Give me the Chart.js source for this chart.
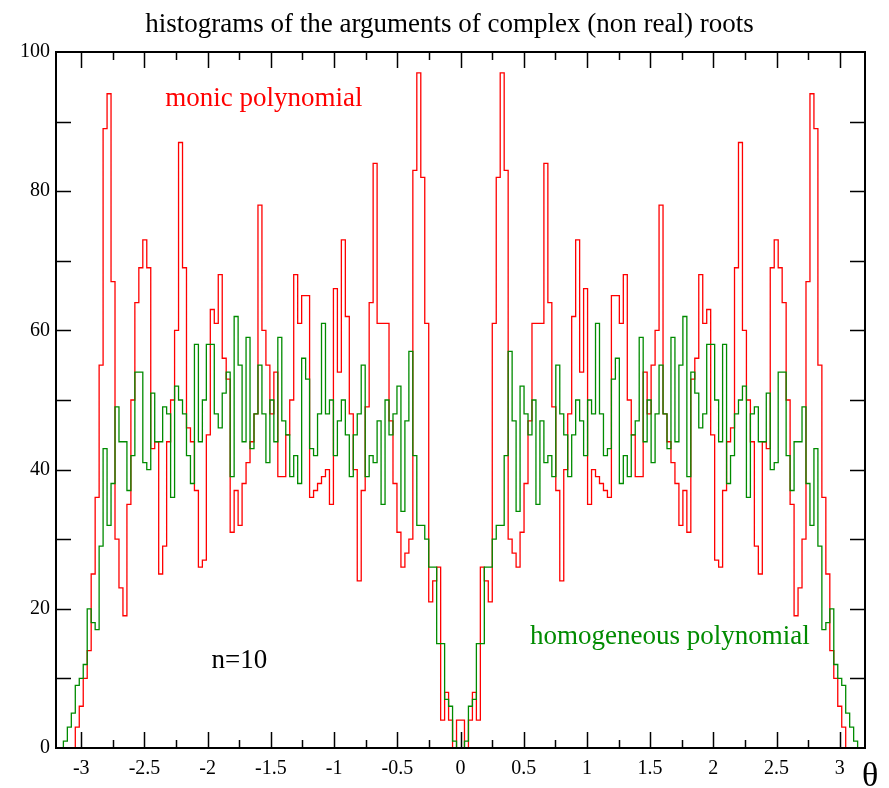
<!DOCTYPE html>
<html><head><meta charset="utf-8">
<script src="https://cdn.jsdelivr.net/npm/chart.js@4.4.1/dist/chart.umd.min.js"></script>
<style>html,body{margin:0;padding:0;background:#fff;}</style>
</head><body>
<canvas id="c" width="889" height="788"></canvas>
<script>
const titleText = 'histograms of the arguments of complex (non real) roots';
const xTickValues = [-3, -2.5, -2, -1.5, -1, -0.5, 0, 0.5, 1, 1.5, 2, 2.5, 3];
const xTickLabels = ['-3', '-2.5', '-2', '-1.5', '-1', '-0.5', '0', '0.5', '1', '1.5', '2', '2.5', '3'];
const xMinorTicks = [-2.75, -2.25, -1.75, -1.25, -0.75, -0.25, 0.25, 0.75, 1.25, 1.75, 2.25, 2.75];
const yTickValues = [0, 20, 40, 60, 80, 100];
const yTickMarks = [10, 20, 30, 40, 50, 60, 70, 80, 90];
const binStart = -Math.PI;
const binEnd = Math.PI;
const binCount = 200;

const monicCounts = [
  0, 0, 0, 3, 6, 10, 14, 25, 36, 55,
  89, 94, 67, 30, 23, 19, 35, 50, 64, 69,
  73, 69, 43, 44, 25, 29, 44, 50, 60, 87,
  69, 46, 44, 37, 26, 27, 45, 63, 61, 68,
  56, 53, 31, 37, 32, 38, 41, 44, 48, 78,
  60, 55, 48, 54, 39, 39, 45, 50, 68, 61,
  65, 65, 36, 37, 38, 39, 40, 35, 66, 54,
  73, 62, 48, 40, 24, 37, 49, 64, 84, 61,
  61, 61, 47, 38, 31, 26, 28, 30, 83, 97,
  82, 61, 21, 24, 26, 4, 8, 4, 0, 4,
  4, 0, 4, 8, 4, 26, 24, 21, 61, 82,
  97, 83, 30, 28, 26, 31, 38, 47, 61, 61,
  61, 84, 64, 49, 37, 24, 40, 48, 62, 73,
  54, 66, 35, 40, 39, 38, 37, 36, 65, 65,
  61, 68, 50, 45, 39, 39, 54, 48, 55, 60,
  78, 48, 44, 41, 38, 32, 37, 31, 53, 56,
  68, 61, 63, 45, 27, 26, 37, 44, 46, 69,
  87, 60, 50, 44, 29, 25, 44, 43, 69, 73,
  69, 64, 50, 35, 19, 23, 30, 67, 94, 89,
  55, 36, 25, 14, 10, 6, 3, 0, 0, 0
];

const homogeneousCounts = [
  1, 3, 5, 9, 10, 12, 20, 18, 17, 29,
  43, 32, 38, 49, 44, 44, 37, 42, 54, 54,
  41, 40, 51, 44, 44, 49, 48, 36, 52, 50,
  48, 42, 38, 58, 44, 50, 58, 58, 48, 46,
  51, 54, 39, 62, 55, 44, 59, 43, 48, 55,
  48, 41, 50, 44, 59, 47, 45, 39, 42, 38,
  56, 53, 43, 42, 48, 61, 48, 50, 42, 47,
  50, 45, 39, 45, 48, 55, 39, 42, 41, 47,
  35, 50, 45, 48, 52, 34, 47, 57, 42, 32,
  32, 30, 26, 26, 15, 15, 7, 6, 1, 0,
  0, 1, 6, 7, 15, 15, 26, 26, 30, 32,
  32, 42, 57, 47, 34, 52, 48, 45, 50, 35,
  47, 41, 42, 39, 55, 48, 45, 39, 45, 50,
  47, 42, 50, 48, 61, 48, 42, 43, 53, 56,
  38, 42, 39, 45, 47, 59, 44, 50, 41, 48,
  55, 48, 43, 59, 44, 55, 62, 39, 54, 51,
  46, 48, 58, 58, 50, 44, 58, 38, 42, 48,
  50, 52, 36, 48, 49, 44, 44, 51, 40, 41,
  54, 54, 42, 37, 44, 44, 49, 38, 32, 43,
  29, 17, 18, 20, 12, 10, 9, 5, 3, 1
];

const annotations = [
  {text: 'monic polynomial', x: -2.335, y: 92.3, color: '#ff0000'},
  {text: 'homogeneous polynomial', x: 0.55, y: 15.0, color: '#008b00'},
  {text: 'n=10', x: -1.97, y: 11.5, color: '#000000'}
];

function histogramSteps(counts) {
  const w = (binEnd - binStart) / binCount;
  const pts = [{x: binStart, y: 0}];
  counts.forEach((c, i) => pts.push({x: binStart + i * w, y: c}));
  pts.push({x: binEnd, y: counts[counts.length - 1]});
  pts.push({x: binEnd, y: 0});
  return pts;
}

const SERIF = "'Liberation Serif', 'DejaVu Serif', serif";
Chart.defaults.font.family = SERIF;
Chart.defaults.color = '#000';

const framePlugin = {
  id: 'frame',
  afterDatasetsDraw(chart) {
    const {ctx, chartArea: a, scales} = chart;
    const xs = scales.x, ys = scales.y;
    ctx.save();
    ctx.strokeStyle = '#000';
    ctx.lineWidth = 1.5;
    ctx.beginPath();
    xTickValues.forEach(v => {
      const px = Math.round(xs.getPixelForValue(v)) + 0.5;
      ctx.moveTo(px, a.bottom); ctx.lineTo(px, a.bottom - 16);
      ctx.moveTo(px, a.top); ctx.lineTo(px, a.top + 16);
    });
    xMinorTicks.forEach(v => {
      const px = Math.round(xs.getPixelForValue(v)) + 0.5;
      ctx.moveTo(px, a.bottom); ctx.lineTo(px, a.bottom - 8);
      ctx.moveTo(px, a.top); ctx.lineTo(px, a.top + 8);
    });
    yTickMarks.forEach(v => {
      const py = Math.round(ys.getPixelForValue(v)) + 0.5;
      ctx.moveTo(a.left, py); ctx.lineTo(a.left + 15, py);
      ctx.moveTo(a.right, py); ctx.lineTo(a.right - 15, py);
    });
    ctx.stroke();
    ctx.lineWidth = 2;
    ctx.strokeRect(a.left, a.top, a.right - a.left, a.bottom - a.top);
    ctx.restore();
  },
  afterDraw(chart) {
    const {ctx, chartArea: a, scales} = chart;
    ctx.save();
    ctx.textBaseline = 'alphabetic';
    ctx.font = '27px ' + SERIF;
    ctx.fillStyle = '#000';
    ctx.textAlign = 'center';
    ctx.fillText(titleText, (a.left + a.right) / 2 - 11, 32);
    ctx.textAlign = 'left';
    annotations.forEach(t => {
      ctx.fillStyle = t.color;
      ctx.fillText(t.text, scales.x.getPixelForValue(t.x), scales.y.getPixelForValue(t.y));
    });
    ctx.fillStyle = '#000';
    ctx.font = '34px ' + SERIF;
    ctx.fillText('\u03b8', a.right - 3, 786);
    ctx.restore();
  }
};

new Chart(document.getElementById('c'), {
  type: 'line',
  data: {
    datasets: [
      {label: 'homogeneous polynomial', data: histogramSteps(homogeneousCounts), borderColor: '#008b00', borderWidth: 1.3, stepped: 'before', pointRadius: 0, fill: false, order: 0},
      {label: 'monic polynomial', data: histogramSteps(monicCounts), borderColor: '#ff0000', borderWidth: 1.3, stepped: 'before', pointRadius: 0, fill: false, order: 1}
    ]
  },
  options: {
    responsive: false,
    animation: false,
    devicePixelRatio: 1,
    parsing: false,
    layout: {padding: {top: 52, right: 24, left: 0, bottom: 0}},
    plugins: {legend: {display: false}, tooltip: {enabled: false}, title: {display: false}},
    scales: {
      x: {
        type: 'linear', min: -3.2, max: 3.2,
        grid: {display: false, drawTicks: false},
        border: {display: false},
        afterBuildTicks: s => { s.ticks = xTickValues.map(v => ({value: v})); },
        afterFit: s => { s.height = 40; },
        ticks: {callback: (v, i) => xTickLabels[i], font: {size: 20}, color: '#000', padding: 9, maxRotation: 0, autoSkip: false}
      },
      y: {
        type: 'linear', min: 0, max: 100,
        grid: {display: false, drawTicks: false},
        border: {display: false},
        afterBuildTicks: s => { s.ticks = yTickValues.map(v => ({value: v})); },
        afterFit: s => { s.width = 56; },
        ticks: {callback: v => String(v), font: {size: 20}, color: '#000', padding: 6}
      }
    }
  },
  plugins: [framePlugin]
});
</script>
</body></html>
